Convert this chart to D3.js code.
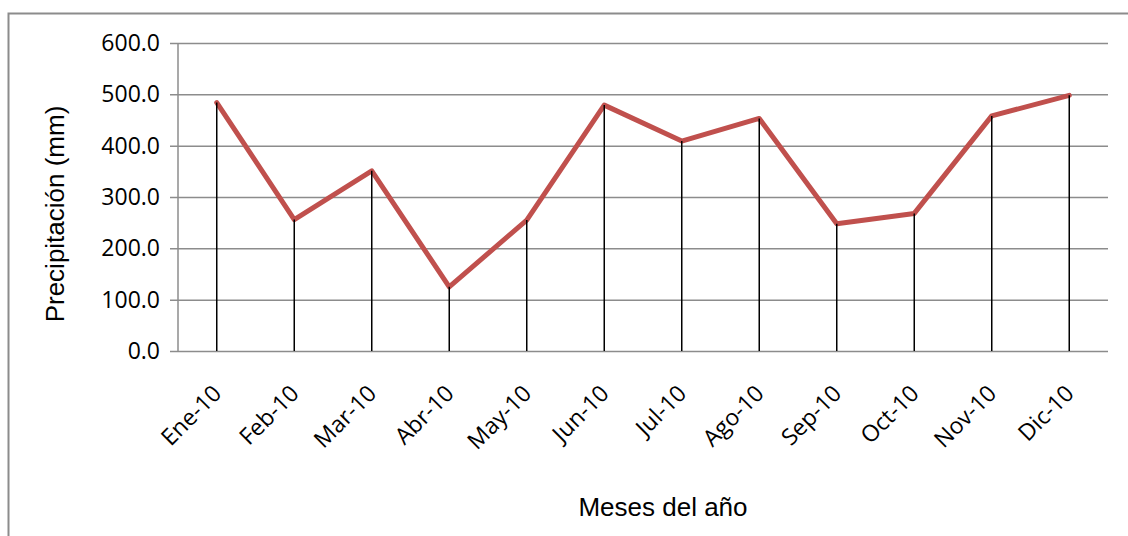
<!DOCTYPE html>
<html>
<head>
<meta charset="utf-8">
<script src="https://cdn.jsdelivr.net/npm/d3@7"></script>
<style>
  body { margin: 0; background: #fff; }
</style>
</head>
<body>
<div id="chart"></div>
<script>
// datos: precipitacion mensual 2010
var months = ["Ene-10","Feb-10","Mar-10","Abr-10","May-10","Jun-10",
              "Jul-10","Ago-10","Sep-10","Oct-10","Nov-10","Dic-10"];
var precip = [484, 256, 351, 125, 255, 479, 409, 453, 248, 268, 458, 498];
var yTicks = [0, 100, 200, 300, 400, 500, 600];

var width = 1128, height = 536;
var margin = {t:43, r:20, b:185, l:178};
var plotW = 1108 - margin.l,
    plotH = 351 - margin.t;

var svg = d3.select("#chart")
    .append("svg")
    .attr("width", width)
    .attr("height", height);

// marco exterior del grafico
svg.append("rect")
    .attr("x", 8.5)
    .attr("y", 13.5)
    .attr("width", width)
    .attr("height", height)
    .style("fill", "white")
    .style("stroke", "#8c8c8c")
    .style("stroke-width", 2);

var plot = svg.append("g")
    .attr("transform", "translate(" + margin.l + "," + margin.t + ")");

var x = d3.scaleBand()
    .domain(months)
    .range([0, plotW]);

var y = d3.scaleLinear()
    .domain([0, 600])
    .range([plotH, 0]);

// lineas de division horizontales
var yAxis = d3.axisLeft(y)
    .tickValues(yTicks)
    .tickSize(-plotW)
    .tickPadding(18)
    .tickFormat(d3.format(".1f"));

var gy = plot.append("g").call(yAxis);
gy.select(".domain").remove();
gy.selectAll(".tick line")
    .attr("x1", -8)
    .style("stroke", "#8c8c8c")
    .style("stroke-width", 1.5);
gy.selectAll(".tick text")
    .style("font-family", "'Open Sans', sans-serif")
    .style("font-size", "23px")
    .style("fill", "#000");

// eje vertical
plot.append("line")
    .attr("x1", 0).attr("x2", 0)
    .attr("y1", 0).attr("y2", plotH)
    .style("stroke", "#8c8c8c")
    .style("stroke-width", 1.5);

// eje x con etiquetas giradas
var xAxis = d3.axisBottom(x).tickSize(0).tickPadding(0);
var gx = plot.append("g")
    .attr("transform", "translate(0," + plotH + ")")
    .call(xAxis);
gx.select(".domain").remove();
gx.selectAll(".tick text")
    .attr("text-anchor", "end")
    .attr("transform", "translate(6,44) rotate(-45)")
    .attr("dy", 0)
    .attr("y", 0)
    .style("font-family", "'Open Sans', sans-serif")
    .style("font-size", "23px")
    .style("fill", "#000");

// serie
var line = d3.line()
    .x(function(d, i){ return x(months[i]) + x.bandwidth()/2; })
    .y(function(d){ return y(d); });

plot.append("path")
    .datum(precip)
    .attr("d", line)
    .style("fill", "none")
    .style("stroke", "#C0504D")
    .style("stroke-width", 5)
    .style("stroke-linejoin", "round")
    .style("stroke-linecap", "round");

// lineas de caida
plot.selectAll(".drop")
    .data(precip)
    .enter()
    .append("line")
    .attr("class", "drop")
    .attr("x1", function(d, i){ return x(months[i]) + x.bandwidth()/2; })
    .attr("x2", function(d, i){ return x(months[i]) + x.bandwidth()/2; })
    .attr("y1", function(d){ return y(d); })
    .attr("y2", plotH)
    .style("stroke", "#000")
    .style("stroke-width", 1.5);

// titulos de ejes
svg.append("text")
    .attr("transform", "translate(64,214) rotate(-90)")
    .attr("text-anchor", "middle")
    .style("font-family", "'Liberation Sans', Arial, sans-serif")
    .style("font-size", "26px")
    .text("Precipitación (mm)");

svg.append("text")
    .attr("x", 663)
    .attr("y", 516)
    .attr("text-anchor", "middle")
    .style("font-family", "'Liberation Sans', Arial, sans-serif")
    .style("font-size", "26px")
    .text("Meses del año");
</script>
</body>
</html>
